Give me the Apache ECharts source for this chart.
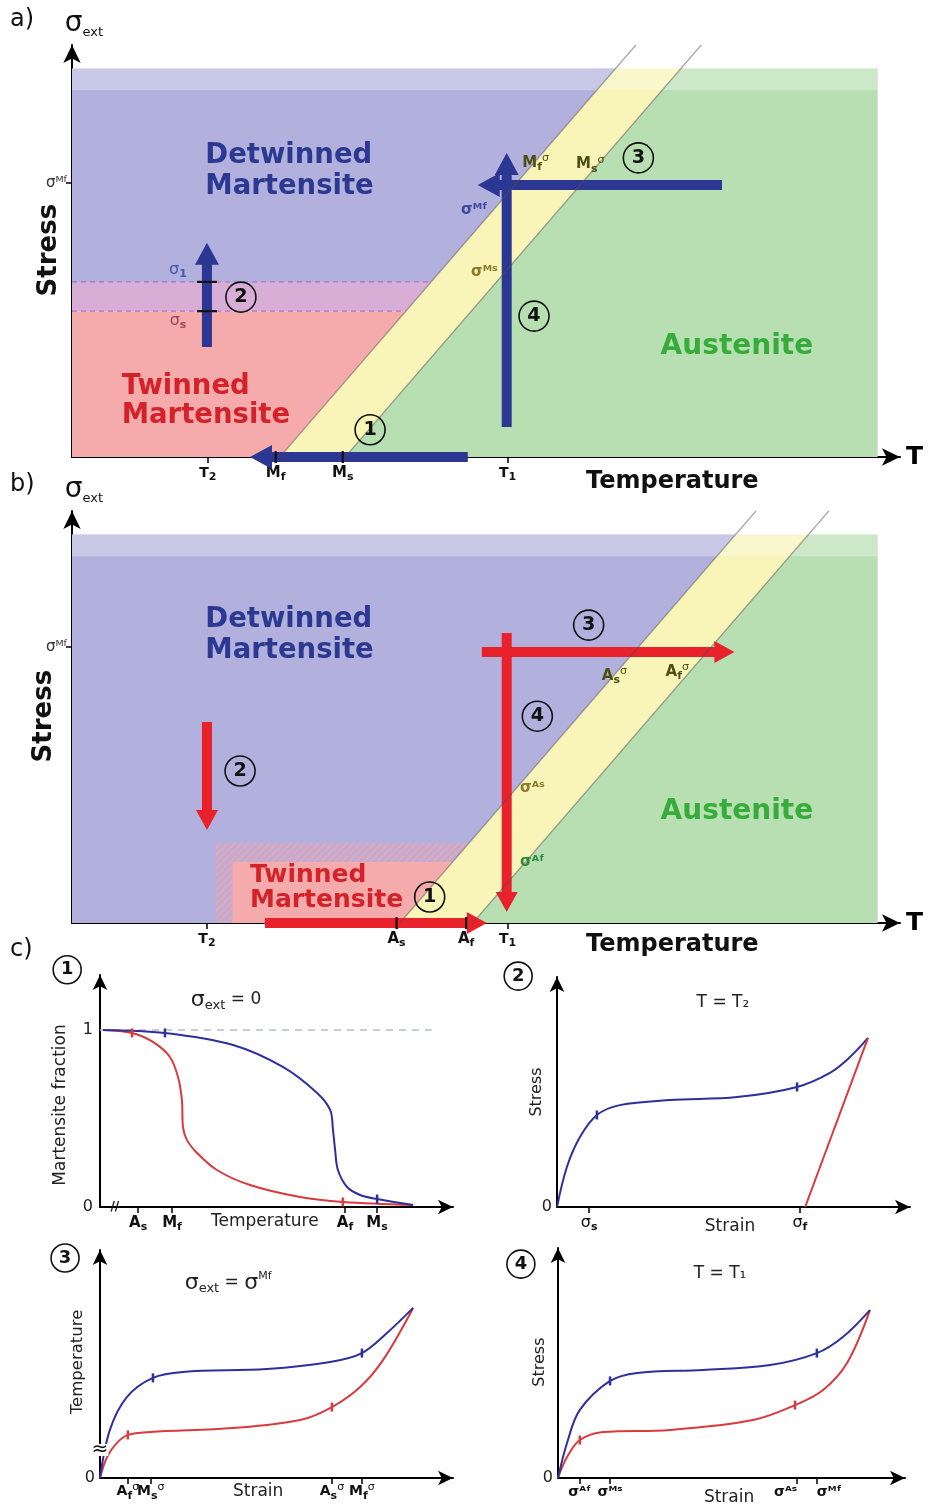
<!DOCTYPE html>
<html><head><meta charset="utf-8">
<script src="https://cdn.jsdelivr.net/npm/echarts@6/dist/echarts.min.js"></script>
<style>html,body{margin:0;padding:0;background:#fff}#c{width:929px;height:1506px}</style>
</head><body><div id="c"></div><script>
// ---------------- DATA ----------------
// Panel a (cooling / loading).  Temperature and stress in arbitrary units 0-100
const aTempTicks = [16.4, 24.6, 32.7, 52.6];
const aTempTickLabels = ['{tt|T}{s|2}', '{m|M}{s|f}', '{m|M}{s|s}', '{tt|T}{s|1}'];
const aStressTicks = [66.5];
const aStressTickLabels = ['σᴹᶠ'];
const aMfLine = [25.1, 43];      // [temperature at zero stress, shift over 100 stress units]
const aMsLine = [33.0, 43];
const aSigmaS = 35.4;
const aSigma1 = 42.5;
const aArrows = [[47.8, 0, 21.5, 0], [16.3, 26.7, 16.3, 52.0], [78.5, 66.0, 49.0, 66.0], [52.5, 7.3, 52.5, 73.8]];
const aCircles = [[36.0, 6.6, '1'], [20.4, 38.8, '2'], [68.4, 72.6, '3'], [55.8, 34.2, '4']];
// Panel b (heating / unloading)
const bTempTicks = [16.3, 39.2, 47.6, 52.6];
const bTempTickLabels = ['{tt|T}{s|2}', '{m|A}{s|s}', '{m|A}{s|f}', '{tt|T}{s|1}'];
const bStressTicks = [67.0];
const bStressTickLabels = ['σᴹᶠ'];
const bAsLine = [39.6, 43];
const bAfLine = [48.4, 43];
const bTwinned = [19.4, 14.8];       // [left temperature, top stress]
const bTwinnedHatch = [17.3, 19.4];
const bArrows = [[23.3, 0, 50.1, 0], [16.3, 48.8, 16.3, 22.6], [49.5, 65.8, 80.0, 65.8], [52.5, 70.4, 52.5, 2.7]];
const bCircles = [[43.2, 6.3, '1'], [20.3, 36.9, '2'], [62.4, 72.3, '3'], [56.2, 50.2, '4']];
const phaseTop = 94.3, phaseBand = 89, phaseRight = 97.3;
// Panel c1: martensite fraction vs temperature
const c1Blue = [[0.85,1.0],[18.4,0.983],[37.7,0.915],[51.8,0.791],[61.5,0.644],[65.2,0.548],[66.0,0.435],[66.6,0.322],[67.4,0.209],[70.0,0.113],[73.7,0.068],[78.5,0.045],[88.7,0.011]];
const c1Red = [[0.85,1.0],[9.1,0.983],[15,0.932],[19.8,0.847],[22.1,0.734],[23.2,0.605],[23.5,0.452],[24.6,0.379],[27.5,0.305],[33.1,0.209],[42.5,0.124],[56.7,0.056],[68.8,0.028],[88.7,0.011]];
const c1BlueMarks = [[18.4,0.983],[78.5,0.045]];
const c1RedMarks = [[9.1,0.983],[68.8,0.028]];
const c1Ticks = [10.8, 20.4, 69.4, 78.5];
const c1TickLabels = ['{m|A}{s|s}', '{m|M}{s|f}', '{m|A}{s|f}', '{m|M}{s|s}'];
const c1Full = [[0, 1], [94, 1]];
// Panel c2: stress-strain at T2
const c2Blue = [[0,0],[2.8,17.4],[6.5,30.4],[11.3,40],[17.8,44.3],[32,46.5],[51,47.8],[68,52.2],[77.3,58.3],[83,65.2],[88.1,73.5]];
const c2Red = [[70.3,0],[88.1,73.5]];
const c2BlueMarks = [[11.3,40],[68,52.2]];
const c2Ticks = [9.1, 68.8];
const c2TickLabels = ['{g|σ}{s|s}', '{g|σ}{s|f}'];
// Panel c3: temperature-strain at sigma_ext = sigma_Mf
const c3Blue = [[0,0],[2.8,21.1],[7.6,35.5],[15,43.9],[23.5,46.5],[47.3,47.8],[65.2,50.9],[74.2,54.8],[81.3,63.6],[88.7,74.6]];
const c3Red = [[0,0],[2,9.2],[4.8,15.4],[7.9,18.9],[14.2,20.2],[37.7,21.9],[56.7,25.4],[65.7,31.1],[73.7,39.9],[80.2,51.8],[88.7,74.6]];
const c3BlueMarks = [[15,43.9],[74.2,54.8]];
const c3RedMarks = [[7.9,18.9],[65.7,31.1]];
const c3Ticks = [7.9, 14.4, 65.7, 74.2];
const c3TickLabels = ['{M|A}{s|f}{p|σ}', '{M|M}{s|s}{p|σ}', '{M|A}{s|s}{p|σ}', '{M|M}{s|f}{p|σ}'];
// Panel c4: stress-strain at T1
const c4Blue = [[0,0],[2.6,15.2],[6.3,29.6],[15,42.2],[22.8,45.7],[41.8,47],[61.1,49.1],[74.6,54.3],[82.1,61.3],[89.9,73]];
const c4Red = [[0,0],[2.6,9.1],[6.3,16.5],[13,20],[32.3,20.9],[56.2,25.2],[68.3,31.7],[76.4,38.3],[83.3,50],[89.9,73]];
const c4BlueMarks = [[15,42.2],[74.6,54.3]];
const c4RedMarks = [[6.3,16.5],[68.3,31.7]];
const c4Ticks = [6.3, 15.0, 68.9, 74.6];
const c4TickLabels = ['σᴬᶠ', 'σᴹˢ', 'σᴬˢ', 'σᴹᶠ'];

// ---------------- STYLE ----------------
const FONT = 'DejaVu Sans';
const C = {
  blue: '#b2b0dc', pink: '#f5abab', purple: '#d8aed6', yellow: '#f9f4b8', green: '#b8dfb2',
  arrowBlue: '#2b3792', arrowRed: '#e8212b', detText: '#2c3990', twText: '#d4222a', auText: '#36ac3a',
  curveBlue: '#2f2f9c', curveRed: '#d83a3e'
};
const RICH = {
  t: {fontSize: 13, fontWeight: 'bold'},
  tt: {fontSize: 14, fontWeight: 'bold', lineHeight: 20},
  m: {fontSize: 15, fontWeight: 'bold', lineHeight: 20},
  M: {fontSize: 14, fontWeight: 'bold', lineHeight: 20},
  s: {fontSize: 11, fontWeight: 'bold', verticalAlign: 'bottom', lineHeight: 6},
  p: {fontSize: 11, verticalAlign: 'top', lineHeight: 6},
  g: {fontSize: 16, lineHeight: 20},
  G: {fontSize: 28, lineHeight: 30},
  q: {fontSize: 22, lineHeight: 24},
  e: {fontSize: 13, verticalAlign: 'bottom', lineHeight: 8},
  n: {fontSize: 17, lineHeight: 24}
};
const lineX = (ln, y) => ln[0] + ln[1] * y / 100;
const fmt = (ticks, labels) => (v) => {
  let k = 0, d = 1e9;
  ticks.forEach((t, i) => { if (Math.abs(t - v) < d) { d = Math.abs(t - v); k = i; } });
  return labels[k];
};
function hatchPattern() {
  const c = document.createElement('canvas'); c.width = 7; c.height = 7;
  const g = c.getContext('2d');
  g.strokeStyle = 'rgba(244,160,170,0.95)'; g.lineWidth = 2;
  g.beginPath(); g.moveTo(-1, 8); g.lineTo(8, -1); g.moveTo(-2, 2); g.lineTo(2, -2); g.moveTo(5, 9); g.lineTo(9, 5); g.stroke();
  return {type: 'pattern', image: c, repeat: 'repeat'};
}

// ---------------- SHAPES ----------------
const WHITE_BAND = 'rgba(255,255,255,0.3)';
const aShapes = [
  {pts: [[0,0],[aMfLine[0],0],[lineX(aMfLine,aSigmaS),aSigmaS],[0,aSigmaS]], style: {fill: C.pink}},
  {pts: [[0,aSigmaS],[lineX(aMfLine,aSigmaS),aSigmaS],[lineX(aMfLine,aSigma1),aSigma1],[0,aSigma1]], style: {fill: C.purple}},
  {pts: [[0,aSigma1],[lineX(aMfLine,aSigma1),aSigma1],[lineX(aMfLine,phaseTop),phaseTop],[0,phaseTop]], style: {fill: C.blue}},
  {pts: [[aMfLine[0],0],[aMsLine[0],0],[lineX(aMsLine,phaseTop),phaseTop],[lineX(aMfLine,phaseTop),phaseTop]], style: {fill: C.yellow}},
  {pts: [[aMsLine[0],0],[phaseRight,0],[phaseRight,phaseTop],[lineX(aMsLine,phaseTop),phaseTop]], style: {fill: C.green}},
  {pts: [[0,phaseBand],[phaseRight,phaseBand],[phaseRight,phaseTop],[0,phaseTop]], style: {fill: WHITE_BAND}}
];
const aLines = [
  {line: true, pts: [[aMfLine[0],0],[lineX(aMfLine,100),100]], style: {stroke: 'rgba(80,80,80,0.5)', lineWidth: 1.2, fill: null}},
  {line: true, pts: [[aMsLine[0],0],[lineX(aMsLine,100),100]], style: {stroke: 'rgba(80,80,80,0.5)', lineWidth: 1.2, fill: null}},
  {line: true, pts: [[0,aSigma1],[lineX(aMfLine,aSigma1),aSigma1]], style: {stroke: '#a676c4', lineWidth: 1.3, lineDash: [5,4], fill: null}},
  {line: true, pts: [[0,aSigmaS],[lineX(aMfLine,aSigmaS),aSigmaS]], style: {stroke: '#a676c4', lineWidth: 1.3, lineDash: [5,4], fill: null}}
];
const bShapes = [
  {pts: [[0,0],[bAsLine[0],0],[lineX(bAsLine,phaseTop),phaseTop],[0,phaseTop]], style: {fill: C.blue}},
  {pts: [[bTwinnedHatch[0],0],[bAsLine[0],0],[lineX(bAsLine,bTwinnedHatch[1]),bTwinnedHatch[1]],[bTwinnedHatch[0],bTwinnedHatch[1]]], style: {fill: hatchPattern()}},
  {pts: [[bTwinned[0],0],[bAsLine[0],0],[lineX(bAsLine,bTwinned[1]),bTwinned[1]],[bTwinned[0],bTwinned[1]]], style: {fill: C.pink}},
  {pts: [[bAsLine[0],0],[bAfLine[0],0],[lineX(bAfLine,phaseTop),phaseTop],[lineX(bAsLine,phaseTop),phaseTop]], style: {fill: C.yellow}},
  {pts: [[bAfLine[0],0],[phaseRight,0],[phaseRight,phaseTop],[lineX(bAfLine,phaseTop),phaseTop]], style: {fill: C.green}},
  {pts: [[0,phaseBand],[phaseRight,phaseBand],[phaseRight,phaseTop],[0,phaseTop]], style: {fill: WHITE_BAND}}
];
const bLines = [
  {line: true, pts: [[bAsLine[0],0],[lineX(bAsLine,100),100]], style: {stroke: 'rgba(80,80,80,0.5)', lineWidth: 1.2, fill: null}},
  {line: true, pts: [[bAfLine[0],0],[lineX(bAfLine,100),100]], style: {stroke: 'rgba(80,80,80,0.5)', lineWidth: 1.2, fill: null}}
];
const aMarkTicks = [[aTempTicks[1],0,0],[aTempTicks[2],0,0],[aArrows[1][0],aSigma1,1],[aArrows[1][0],aSigmaS,1]];
const bMarkTicks = [[bTempTicks[1],0,0],[bTempTicks[2],0,0]];

// ---------------- SERIES BUILDERS ----------------
function shapeSeries(gi, shapes, z) {
  return {type: 'custom', coordinateSystem: 'cartesian2d', xAxisIndex: gi, yAxisIndex: gi, silent: true, z: z,
    data: shapes.map(() => [0, 0]),
    renderItem: (params, api) => {
      const s = shapes[params.dataIndex];
      return {type: s.line ? 'polyline' : 'polygon', shape: {points: s.pts.map(p => api.coord(p))}, style: s.style};
    }};
}
function arrowSeries(gi, arrows, color, shaft, headL, headW, z) {
  return {type: 'custom', coordinateSystem: 'cartesian2d', xAxisIndex: gi, yAxisIndex: gi, silent: true, z: z,
    data: arrows,
    renderItem: (params, api) => {
      const p1 = api.coord([api.value(0), api.value(1)]);
      const p2 = api.coord([api.value(2), api.value(3)]);
      const dx = p2[0] - p1[0], dy = p2[1] - p1[1], L = Math.hypot(dx, dy);
      const ux = dx / L, uy = dy / L, nx = -uy, ny = ux;
      const b = [p2[0] - ux * headL, p2[1] - uy * headL];
      const hs = shaft / 2, hh = headW / 2;
      const pts = [
        [p1[0] + nx * hs, p1[1] + ny * hs], [b[0] + nx * hs, b[1] + ny * hs], [b[0] + nx * hh, b[1] + ny * hh],
        p2, [b[0] - nx * hh, b[1] - ny * hh], [b[0] - nx * hs, b[1] - ny * hs], [p1[0] - nx * hs, p1[1] - ny * hs]
      ];
      return {type: 'polygon', shape: {points: pts}, style: {fill: color}};
    }};
}
function markTickSeries(gi, ticks, z) {
  return {type: 'custom', coordinateSystem: 'cartesian2d', xAxisIndex: gi, yAxisIndex: gi, silent: true, z: z,
    data: ticks,
    renderItem: (params, api) => {
      const p = api.coord([api.value(0), api.value(1)]);
      const pts = api.value(2) === 0 ? [[p[0], p[1] - 6], [p[0], p[1] + 6]] : [[p[0] - 10, p[1]], [p[0] + 10, p[1]]];
      return {type: 'polyline', shape: {points: pts}, style: {stroke: '#111', lineWidth: 2.2, fill: null}};
    }};
}
function txt(x, y, text, st) {
  return {value: [x, y], label: Object.assign({formatter: text}, st)};
}
function textSeries(gi, items) {
  return {type: 'scatter', xAxisIndex: gi, yAxisIndex: gi, symbolSize: 0, silent: true, clip: false, z: 20,
    itemStyle: {opacity: 1},
    labelLayout: {hideOverlap: false},
    label: {show: true, position: 'inside', fontFamily: FONT, color: '#111', rich: RICH},
    data: items};
}
function circleSeries(gi, items, size) {
  return {type: 'scatter', xAxisIndex: gi, yAxisIndex: gi, symbol: 'circle', symbolSize: size, silent: true, clip: false, z: 21,
    itemStyle: {color: 'rgba(255,255,255,0)', borderColor: '#111', borderWidth: 1.6, opacity: 1},
    label: {show: true, position: 'inside', formatter: p => p.value[2], fontSize: size * 0.64, fontWeight: 'bold', color: '#111', fontFamily: FONT},
    data: items};
}
function curve(gi, data, color) {
  return {type: 'line', xAxisIndex: gi, yAxisIndex: gi, data: data, smooth: 0.35, showSymbol: false, silent: true, clip: false, z: 5,
    lineStyle: {color: color, width: 2}};
}
function marks(gi, data, color) {
  return {type: 'scatter', xAxisIndex: gi, yAxisIndex: gi, data: data, symbol: 'rect', symbolSize: [2.5, 9], silent: true, z: 6,
    itemStyle: {color: color, opacity: 1}};
}
// tick labels placed under the axis as text, so that close labels are all kept
function tickTexts(ticks, labels, y, st, aligns) {
  return ticks.map((t, i) => txt(t, y, labels[i], Object.assign({color: '#111', align: aligns ? aligns[i] : 'center'}, st || {})));
}

// ---------------- AXES ----------------
function xAx(gi, max, ticks, labels, arrow, extra) {
  return Object.assign({type: 'value', gridIndex: gi, min: 0, max: max,
    axisLine: {show: true, onZero: false, symbol: ['none', 'arrow'], symbolSize: arrow, lineStyle: {color: '#000', width: 2}},
    axisTick: {show: ticks.length > 0, customValues: ticks, length: 6, lineStyle: {color: '#000', width: 1.5}},
    axisLabel: {show: labels !== null && ticks.length > 0, customValues: ticks, formatter: labels ? fmt(ticks, labels) : '', rich: RICH, color: '#111', margin: 6, fontFamily: FONT, hideOverlap: false},
    splitLine: {show: false}}, extra || {});
}
function yAx(gi, max, ticks, labels, arrow, extra) {
  return Object.assign({type: 'value', gridIndex: gi, min: 0, max: max,
    axisLine: {show: true, onZero: false, symbol: ['none', 'arrow'], symbolSize: arrow, lineStyle: {color: '#000', width: 2}},
    axisTick: {show: ticks.length > 0, customValues: ticks, length: 6, lineStyle: {color: '#000', width: 1.5}},
    axisLabel: {show: ticks.length > 0, customValues: ticks, formatter: fmt(ticks, labels), rich: RICH, color: '#333', margin: 4, fontSize: 15, fontFamily: FONT, hideOverlap: false},
    splitLine: {show: false}}, extra || {});
}
const TNAME = {name: 'T', nameLocation: 'end', nameGap: 6, nameTextStyle: {fontSize: 25, fontWeight: 'bold', color: '#000', fontFamily: FONT}};
const SNAME = {name: '{G|σ}{e|ext}', nameLocation: 'end', nameGap: 6,
  nameTextStyle: {color: '#111', fontFamily: FONT, rich: RICH, padding: [0, 0, 0, 24]}};
const zeroLabel = (m) => ({axisTick: {show: false}, axisLabel: {show: true, customValues: [0], formatter: () => '0', fontSize: 16, color: '#222', margin: m, fontFamily: FONT}});

// ---------------- TEXT ----------------
const bigBold = (color, size, lh) => ({color: color, fontSize: size || 27.5, fontWeight: 'bold', lineHeight: lh || 31, align: 'left'});
const aTexts = [
  txt(16.1, 69.4, 'Detwinned\nMartensite', bigBold(C.detText)),
  txt(6.0, 13.6, 'Twinned\nMartensite', bigBold(C.twText, 27.5, 29)),
  txt(80.3, 26.7, 'Austenite', Object.assign(bigBold(C.auText, 28), {align: 'center'})),
  txt(72.5, -6.0, 'Temperature', {fontSize: 24, fontWeight: 'bold', color: '#111'}),
  txt(-2.7, 50.2, 'Stress', {fontSize: 26, fontWeight: 'bold', color: '#111', rotate: 90}),
  txt(12.8, 45.4, '{g|σ}{s|1}', {color: '#4a58b0'}),
  txt(12.8, 33.0, '{g|σ}{s|s}', {color: '#9a4a5e'}),
  txt(48.6, 60.0, 'σᴹᶠ', {color: '#3b4aa0', fontSize: 15, fontWeight: 'bold'}),
  txt(49.8, 44.8, 'σᴹˢ', {color: '#8a7a2a', fontSize: 15, fontWeight: 'bold'}),
  txt(56.0, 71.4, '{m|M}{s|f}{p|σ}', {color: '#4f4f14'}),
  txt(62.6, 71.0, '{m|M}{s|s}{p|σ}', {color: '#4f4f14'})
];
const bTexts = [
  txt(16.1, 69.7, 'Detwinned\nMartensite', bigBold(C.detText)),
  txt(21.5, 8.5, 'Twinned\nMartensite', bigBold(C.twText, 25, 25)),
  txt(80.3, 26.9, 'Austenite', Object.assign(bigBold(C.auText, 28), {align: 'center'})),
  txt(72.5, -5.2, 'Temperature', {fontSize: 24, fontWeight: 'bold', color: '#111'}),
  txt(-3.3, 50.2, 'Stress', {fontSize: 26, fontWeight: 'bold', color: '#111', rotate: 90}),
  txt(65.5, 60.0, '{m|A}{s|s}{p|σ}', {color: '#4f4f14'}),
  txt(73.1, 60.9, '{m|A}{s|f}{p|σ}', {color: '#4f4f14'}),
  txt(55.6, 32.8, 'σᴬˢ', {color: '#8a7a2a', fontSize: 15, fontWeight: 'bold'}),
  txt(55.6, 14.8, 'σᴬᶠ', {color: '#2e8a3a', fontSize: 15, fontWeight: 'bold'})
];
const cLab = {fontSize: 17, color: '#222'};
const c1Texts = [
  txt(46.7, -0.085, 'Temperature', cLab),
  txt(-11.3, 0.576, 'Martensite fraction', {fontSize: 17, color: '#222', rotate: 90}),
  txt(35.7, 1.17, '{q|σ}{e|ext}{n| = 0}', {color: '#222'}),
  txt(4.2, 0.0, '//', {fontSize: 12, fontWeight: 'bold', color: '#111', rotate: 0})
];
const c2Texts = [
  txt(49, -8.3, 'Strain', cLab),
  txt(-5.7, 50, 'Stress', {fontSize: 16, color: '#222', rotate: 90}),
  txt(47, 88.7, 'T = T₂', {fontSize: 17, color: '#222'})
];
const c3Texts = [
  txt(44.8, -6.1, 'Strain', cLab),
  txt(-6.2, 50.9, 'Temperature', {fontSize: 16.5, color: '#222', rotate: 90}),
  txt(36.3, 85.5, '{q|σ}{e|ext}{n| = }{q|σ}{p|Mf}', {color: '#222'}),
  txt(0, 12.3, '≈', {fontSize: 20, color: '#111', backgroundColor: '#fff', padding: [0, 0], rotate: 0, lineHeight: 12})
].concat(tickTexts(c3Ticks, c3TickLabels, -6.0));
const c4Texts = [
  txt(49.3, -8.3, 'Strain', cLab),
  txt(-5.2, 50.4, 'Stress', {fontSize: 16, color: '#222', rotate: 90}),
  txt(46.7, 88.7, 'T = T₁', {fontSize: 17, color: '#222'})
].concat(tickTexts(c4Ticks, c4TickLabels, -6.3, {fontSize: 14, fontWeight: 'bold'}, ['center', 'center', 'right', 'left']));

// ---------------- OPTION ----------------
const chart = echarts.init(document.getElementById('c'), null, {renderer: 'canvas'});
const option = {
  animation: false,
  backgroundColor: '#fff',
  textStyle: {fontFamily: FONT},
  grid: [
    {left: 72, top: 45, width: 828, height: 412},
    {left: 72, top: 511, width: 828, height: 412},
    {left: 100, top: 975, width: 353, height: 232},
    {left: 557, top: 977, width: 353, height: 230},
    {left: 100, top: 1250, width: 353, height: 228},
    {left: 558, top: 1248, width: 347, height: 230}
  ],
  xAxis: [
    xAx(0, 100, aTempTicks, aTempTickLabels, [13, 18], TNAME),
    xAx(1, 100, bTempTicks, bTempTickLabels, [13, 18], TNAME),
    xAx(2, 100, c1Ticks, c1TickLabels, [11, 15]),
    xAx(3, 100, c2Ticks, c2TickLabels, [11, 15]),
    xAx(4, 100, c3Ticks, null, [11, 15]),
    xAx(5, 100, c4Ticks, null, [11, 15])
  ],
  yAxis: [
    yAx(0, 100, aStressTicks, aStressTickLabels, [13, 18], SNAME),
    yAx(1, 100, bStressTicks, bStressTickLabels, [13, 18], SNAME),
    yAx(2, 1.31, [0, 1], ['0', '1'], [11, 15], {axisTick: {show: false}, axisLabel: {show: true, customValues: [0, 1], formatter: fmt([0, 1], ['0', '1']), fontSize: 16, color: '#222', margin: 7, fontFamily: FONT}}),
    yAx(3, 100, [0], ['0'], [11, 15], zeroLabel(5)),
    yAx(4, 100, [0], ['0'], [11, 15], zeroLabel(5)),
    yAx(5, 100, [0], ['0'], [11, 15], zeroLabel(5))
  ],
  graphic: [
    {type: 'text', left: 10, top: 8, style: {text: 'a)', fontSize: 24, fill: '#111', fontFamily: FONT}},
    {type: 'text', left: 10, top: 473, style: {text: 'b)', fontSize: 24, fill: '#111', fontFamily: FONT}},
    {type: 'text', left: 10, top: 938, style: {text: 'c)', fontSize: 24, fill: '#111', fontFamily: FONT}}
  ],
  series: [
    shapeSeries(0, aShapes, 1),
    arrowSeries(0, aArrows, C.arrowBlue, 10, 22, 24, 3),
    shapeSeries(0, aLines, 4),
    markTickSeries(0, aMarkTicks, 5),
    textSeries(0, aTexts),
    circleSeries(0, aCircles, 30),

    shapeSeries(1, bShapes, 1),
    arrowSeries(1, bArrows, C.arrowRed, 10, 20, 22, 3),
    shapeSeries(1, bLines, 4),
    markTickSeries(1, bMarkTicks, 5),
    textSeries(1, bTexts),
    circleSeries(1, bCircles, 30),

    {type: 'line', xAxisIndex: 2, yAxisIndex: 2, data: c1Full, showSymbol: false, silent: true, z: 3, lineStyle: {color: '#b8bcc8', width: 1.5, type: [7, 6]}},
    curve(2, c1Red, C.curveRed), curve(2, c1Blue, C.curveBlue),
    marks(2, c1RedMarks, C.curveRed), marks(2, c1BlueMarks, C.curveBlue),
    textSeries(2, c1Texts), circleSeries(2, [[-9.3, 1.34, '1']], 28),

    curve(3, c2Blue, C.curveBlue), curve(3, c2Red, C.curveRed),
    marks(3, c2BlueMarks, C.curveBlue),
    textSeries(3, c2Texts), circleSeries(3, [[-11, 100.4, '2']], 28),

    curve(4, c3Red, C.curveRed), curve(4, c3Blue, C.curveBlue),
    marks(4, c3RedMarks, C.curveRed), marks(4, c3BlueMarks, C.curveBlue),
    textSeries(4, c3Texts), circleSeries(4, [[-9.9, 96.5, '3']], 28),

    curve(5, c4Red, C.curveRed), curve(5, c4Blue, C.curveBlue),
    marks(5, c4RedMarks, C.curveRed), marks(5, c4BlueMarks, C.curveBlue),
    textSeries(5, c4Texts), circleSeries(5, [[-10.7, 93, '4']], 28)
  ]
};
chart.setOption(option);
</script></body></html>
